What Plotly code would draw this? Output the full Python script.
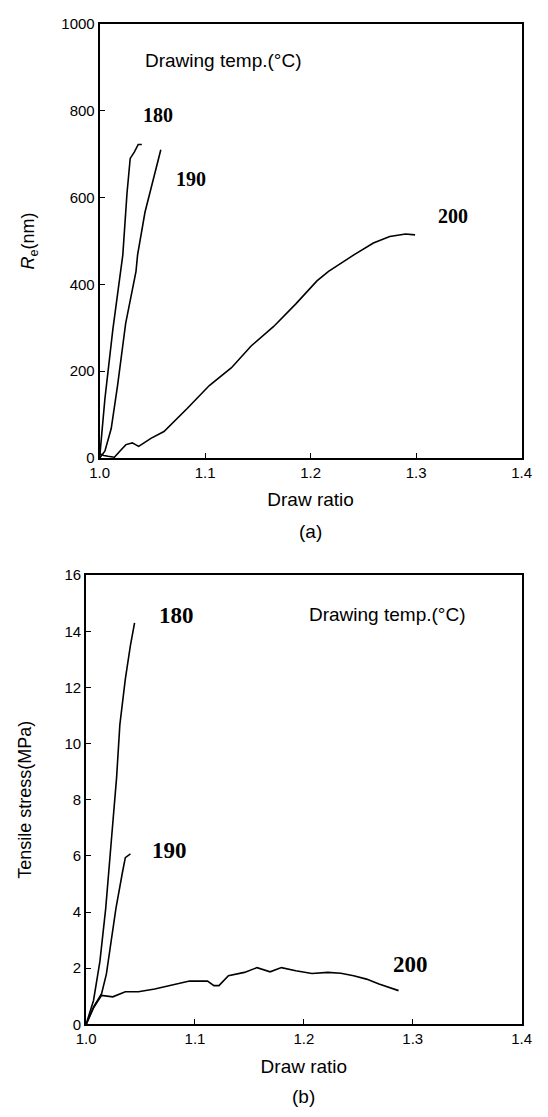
import plotly.graph_objects as go

# ---- Panel (a): retardation Re (nm) vs draw ratio ----
a180_x = [1.000, 1.005, 1.0125, 1.022, 1.026, 1.029, 1.033, 1.0366, 1.040]
a180_y = [0, 136, 295, 468, 611, 690, 705, 722, 722]

a190_x = [1.000, 1.005, 1.011, 1.017, 1.0247, 1.0345, 1.036, 1.043, 1.058]
a190_y = [0, 16, 68, 167, 310, 430, 468, 566, 710]

a200_x = [1.000, 1.004, 1.008, 1.014, 1.020, 1.025, 1.031, 1.037, 1.049, 1.061,
          1.083, 1.104, 1.125, 1.134, 1.1436, 1.165, 1.186, 1.206, 1.217, 1.241,
          1.2595, 1.275, 1.290, 1.299]
a200_y = [10, 6, 4, 2, 18, 31, 35, 27, 46, 61,
          114, 167, 208, 232, 258, 303, 355, 408, 430, 468,
          495, 510, 516, 514]

# ---- Panel (b): tensile stress (MPa) vs draw ratio ----
b180_x = [1.000, 1.0068, 1.0127, 1.018, 1.023, 1.028, 1.031, 1.036, 1.0407, 1.0445]
b180_y = [0, 0.85, 2.25, 4.13, 6.47, 8.8, 10.68, 12.3, 13.5, 14.3]

b190_x = [1.000, 1.007, 1.0142, 1.0186, 1.023, 1.0274, 1.0333, 1.036, 1.0407]
b190_y = [0, 0.63, 1.09, 1.79, 2.96, 4.13, 5.4, 5.94, 6.07]

b200_x = [1.000, 1.007, 1.0142, 1.0245, 1.036, 1.048, 1.063, 1.0835, 1.095, 1.1115,
          1.1174, 1.122, 1.1307, 1.1454, 1.157, 1.169, 1.1794, 1.1926, 1.2074, 1.222,
          1.234, 1.2457, 1.2575, 1.269, 1.287]
b200_y = [0, 0.6, 1.03, 0.98, 1.16, 1.16, 1.26, 1.44, 1.54, 1.54,
          1.38, 1.38, 1.73, 1.85, 2.02, 1.87, 2.02, 1.91, 1.81, 1.85,
          1.82, 1.73, 1.61, 1.44, 1.2]

x_ticks = [1.0, 1.1, 1.2, 1.3, 1.4]
x_tick_text = ["1.0", "1.1", "1.2", "1.3", "1.4"]
a_y_ticks = [0, 200, 400, 600, 800, 1000]
b_y_ticks = [0, 2, 4, 6, 8, 10, 12, 14, 16]

W, H = 548, 1117

def px_x(p):
    return p / W

def px_y(p):
    return 1 - p / H

fig = go.Figure()
line = dict(color="black", width=1.6)
for xs, ys in [(a180_x, a180_y), (a190_x, a190_y), (a200_x, a200_y)]:
    fig.add_trace(go.Scatter(x=xs, y=ys, mode="lines", line=line,
                             xaxis="x", yaxis="y", showlegend=False))
for xs, ys in [(b180_x, b180_y), (b190_x, b190_y), (b200_x, b200_y)]:
    fig.add_trace(go.Scatter(x=xs, y=ys, mode="lines", line=line,
                             xaxis="x2", yaxis="y2", showlegend=False))

tickfont = dict(family="Arial, Liberation Sans, sans-serif", size=15, color="black")
titlefont = dict(family="Arial, Liberation Sans, sans-serif", size=19, color="black")
ytitlefont = dict(family="Arial, Liberation Sans, sans-serif", size=18, color="black")

common_x = dict(range=[1.0, 1.4], tickvals=x_ticks, ticktext=x_tick_text,
                ticks="inside", ticklen=5, tickwidth=1.3, tickcolor="black",
                showline=True, linecolor="black", linewidth=1.8, mirror=True,
                showgrid=False, zeroline=False, tickfont=tickfont,
                title=dict(text="Draw ratio", font=titlefont, standoff=13))
common_y = dict(ticks="inside", ticklen=5, tickwidth=1.3, tickcolor="black",
                showline=True, linecolor="black", linewidth=1.8, mirror=True,
                showgrid=False, zeroline=False, tickfont=tickfont)

fig.update_layout(
    width=W, height=H,
    margin=dict(l=0, r=0, t=0, b=0),
    paper_bgcolor="white", plot_bgcolor="white",
    xaxis=dict(domain=[px_x(93), px_x(531)], anchor="y", **common_x),
    yaxis=dict(domain=[px_y(456), px_y(15)], anchor="x", range=[0, 1000],
               tickvals=a_y_ticks,
               title=dict(text="<i>R</i><sub>e</sub>(nm)", font=ytitlefont, standoff=22),
               **common_y),
    xaxis2=dict(domain=[px_x(79), px_x(531)], anchor="y2", **common_x),
    yaxis2=dict(domain=[px_y(1031), px_y(575)], anchor="x2", range=[0, 16],
                tickvals=b_y_ticks,
                title=dict(text="Tensile stress(MPa)", font=ytitlefont, standoff=28),
                **common_y),
)

serif_a = dict(family="Times New Roman, Liberation Serif, serif", size=20, color="black")
serif_b = dict(family="Times New Roman, Liberation Serif, serif", size=23, color="black")
sans = dict(family="Arial, Liberation Sans, sans-serif", size=19, color="black")

ann = [
    dict(x=1.041, y=915, xref="x", yref="y", text="Drawing temp.(°C)", font=sans,
         xanchor="left", yanchor="middle", showarrow=False),
    dict(x=1.055, y=790, xref="x", yref="y", text="<b>180</b>", font=serif_a,
         yanchor="middle", showarrow=False),
    dict(x=1.087, y=642, xref="x", yref="y", text="<b>190</b>", font=serif_a,
         yanchor="middle", showarrow=False),
    dict(x=1.335, y=557, xref="x", yref="y", text="<b>200</b>", font=serif_a,
         yanchor="middle", showarrow=False),
    dict(x=1.2027, y=14.6, xref="x2", yref="y2", text="Drawing temp.(°C)", font=sans,
         xanchor="left", yanchor="middle", showarrow=False),
    dict(x=1.0827, y=14.56, xref="x2", yref="y2", text="<b>180</b>", font=serif_b,
         yanchor="middle", showarrow=False),
    dict(x=1.077, y=6.2, xref="x2", yref="y2", text="<b>190</b>", font=serif_b,
         yanchor="middle", showarrow=False),
    dict(x=1.298, y=2.14, xref="x2", yref="y2", text="<b>200</b>", font=serif_b,
         yanchor="middle", showarrow=False),
    dict(x=px_x(312), y=px_y(531), xref="paper", yref="paper", text="(a)", font=sans,
         xanchor="center", yanchor="middle", showarrow=False),
    dict(x=px_x(305), y=px_y(1104), xref="paper", yref="paper", text="(b)", font=sans,
         xanchor="center", yanchor="middle", showarrow=False),
]
fig.update_layout(annotations=ann)

fig.write_html("out.html")
